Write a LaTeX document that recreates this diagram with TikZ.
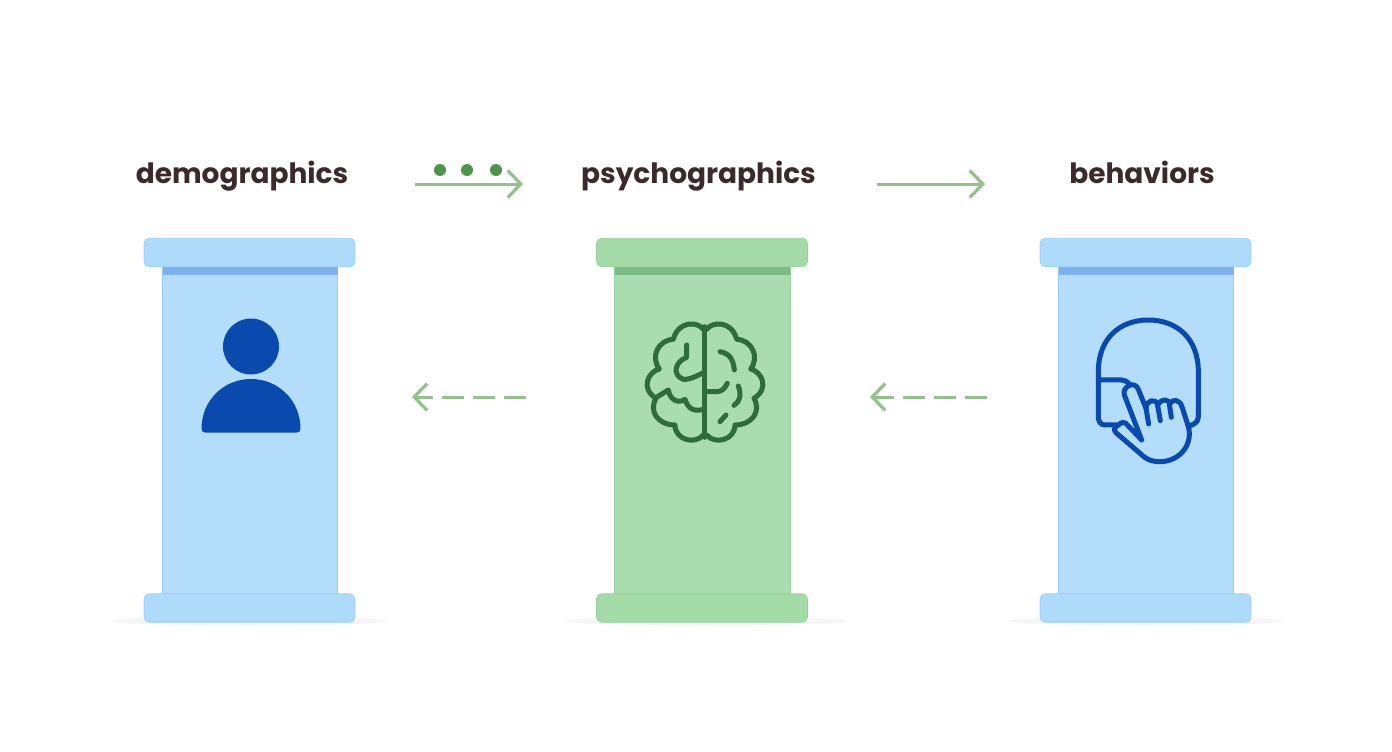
\documentclass[tikz,border=0pt]{standalone}
\usepackage{fontspec}
\setmainfont{Poppins}
\usetikzlibrary{arrows.meta}
\definecolor{skyfill}{HTML}{B3DDFA}
\definecolor{skycap}{HTML}{AEDBFA}
\definecolor{skyband}{HTML}{7FB2EC}
\definecolor{skyedge}{HTML}{9ACEF3}
\definecolor{leaffill}{HTML}{A9DCAE}
\definecolor{leafcap}{HTML}{A4D9A8}
\definecolor{leafband}{HTML}{7DBB84}
\definecolor{leafedge}{HTML}{98D2A0}
\definecolor{navyicon}{HTML}{0A4AAE}
\definecolor{brainline}{HTML}{2F6B3D}
\definecolor{arrowgreen}{HTML}{93C08B}
\definecolor{dotgreen}{HTML}{4F9449}
\definecolor{labelink}{HTML}{3A2A2B}
\tikzset{
  title/.style={font=\fontsize{28}{34}\selectfont\bfseries,text=labelink,inner sep=0pt,anchor=base},
  capbox/.style={minimum width=211pt,minimum height=28.5pt,inner sep=0pt,rounded corners=5pt,draw,line width=0.6pt},
  shaftbox/.style={minimum width=175.5pt,minimum height=326pt,inner sep=0pt,draw,line width=0.8pt},
  bandbox/.style={minimum width=175pt,minimum height=8pt,inner sep=0pt},
  floorshadow/.style={fill=black!4},
  flowline/.style={draw=arrowgreen,line width=3pt,-{Straight Barb[length=13pt,width=27pt,line width=3.2pt]}},
  backline/.style={flowline,dash pattern=on 22pt off 9pt},
  iconline/.style={line width=5pt,line cap=round,line join=round}
}
\newcommand{\brainlobe}{
  (250,88) .. controls (235,65) and (175,60) .. (160,118)
  .. controls (115,120) and (90,170) .. (118,207)
  .. controls (85,215) and (60,265) .. (108,295)
  .. controls (85,335) and (115,375) .. (165,375)
  .. controls (165,420) and (225,435) .. (250,405)
}
\begin{document}
\begin{tikzpicture}[x=1pt,y=-1pt]
    \useasboundingbox (0,0) rectangle (1392,752);
    % shadows under the pillars
    \fill [floorshadow] (250,621) ellipse (138 and 4.5);
    \fill [floorshadow] (706,621) ellipse (141 and 4.5);
    \fill [floorshadow] (1146,621) ellipse (137 and 4.5);

    % pillars
    \node [shaftbox,draw=skyedge,fill=skyfill] (demoshaft) at (250,430) {};
    \node [bandbox,fill=skyband] (demoband) at (250,271) {};
    \node [capbox,draw=skyedge,fill=skycap] (democap) at (249.5,252.5) {};
    \node [capbox,draw=skyedge,fill=skycap] (demobase) at (249.5,608) {};

    \node [shaftbox,draw=leafedge,fill=leaffill] (psychshaft) at (702.5,430) {};
    \node [bandbox,fill=leafband] (psychband) at (702.5,271) {};
    \node [capbox,draw=leafedge,fill=leafcap] (psychcap) at (702,252.5) {};
    \node [capbox,draw=leafedge,fill=leafcap] (psychbase) at (702,608) {};

    \node [shaftbox,draw=skyedge,fill=skyfill] (behavshaft) at (1146,430) {};
    \node [bandbox,fill=skyband] (behavband) at (1146,271) {};
    \node [capbox,draw=skyedge,fill=skycap] (behavcap) at (1145.5,252.5) {};
    \node [capbox,draw=skyedge,fill=skycap] (behavbase) at (1145.5,608) {};

    % titles
    \node [title] (demotitle) at (242,183) {demographics};
    \node [title] (psychtitle) at (698.5,183) {psychographics};
    \node [title] (behavtitle) at (1142,183) {behaviors};

    % arrows
    \coordinate (demoout) at (415,184);
    \coordinate (psychin) at (523,184);
    \coordinate (psychout) at (877,184);
    \coordinate (behavin) at (985,184);
    \coordinate (psychleft) at (526,397);
    \coordinate (demoright) at (412,397);
    \coordinate (behavleft) at (987,397);
    \coordinate (psychright) at (870,397);
    \draw [flowline] (demoout) -- (psychin);
    \draw [flowline] (psychout) -- (behavin);
    \draw [backline] (psychleft) -- (demoright);
    \draw [backline] (behavleft) -- (psychright);
    \fill [dotgreen] (440,170) circle (6) (467,170) circle (6) (496,170) circle (6);

    % person
    \fill [navyicon] (251,346.5) circle (28);
    \fill [navyicon] (205,432.5) -- (297,432.5) .. controls (299,432.5) and (300.5,431) .. (300.5,429)
      .. controls (300.5,400) and (278,379) .. (251,379)
      .. controls (224,379) and (201.5,400) .. (201.5,429)
      .. controls (201.5,431) and (203,432.5) .. (205,432.5) -- cycle;

    % brain
    \begin{scope}[shift={(620,300)},x=0.3333pt,y=-0.3333pt,draw=brainline,iconline]
        \draw (255,80) -- (255,412);
        \draw \brainlobe;
        \begin{scope}[shift={(510,0)},xscale=-1]
            \draw \brainlobe;
        \end{scope}
        \draw (200,135) -- (200,172) .. controls (165,185) and (155,225) .. (190,238)
          .. controls (210,240) and (235,225) .. (250,218);
        \draw (108,293) -- (145,270) .. controls (150,300) and (175,312) .. (195,298)
          .. controls (205,330) and (225,335) .. (250,328);
        \draw (255,275) -- (290,275) .. controls (305,275) and (315,265) .. (322,250);
        \draw (300,155) .. controls (330,160) and (340,180) .. (343,210);
        \draw (355,258) .. controls (365,285) and (360,305) .. (342,316);
        \draw (300,365) -- (318,345);
    \end{scope}

    % head and hand
    \begin{scope}[shift={(1070,300)},x=0.3333pt,y=-0.3333pt,draw=navyicon,iconline]
        \draw (140,375) -- (105,375) .. controls (92,375) and (85,365) .. (85,350) -- (85,215)
          .. controls (85,115) and (150,60) .. (235,60)
          .. controls (320,60) and (385,115) .. (385,215) -- (385,350)
          .. controls (385,365) and (375,372) .. (358,378);
        \draw (85,240) -- (155,240) .. controls (165,240) and (172,245) .. (178,252);
        \draw (215,420) -- (163,285) .. controls (155,260) and (195,240) .. (205,268)
          -- (228,325) .. controls (228,300) and (255,295) .. (265,312)
          .. controls (275,295) and (295,298) .. (300,310)
          .. controls (310,295) and (330,300) .. (336,320)
          -- (352,370) .. controls (375,430) and (330,485) .. (270,485)
          .. controls (240,485) and (225,475) .. (210,460) -- (140,400)
          .. controls (130,390) and (130,385) .. (145,375)
          .. controls (155,365) and (165,365) .. (172,375) -- cycle;
        \draw (228,325) -- (236,372);
        \draw (262,312) -- (271,362);
        \draw (298,312) -- (304,352);
    \end{scope}
\end{tikzpicture}
\end{document}
